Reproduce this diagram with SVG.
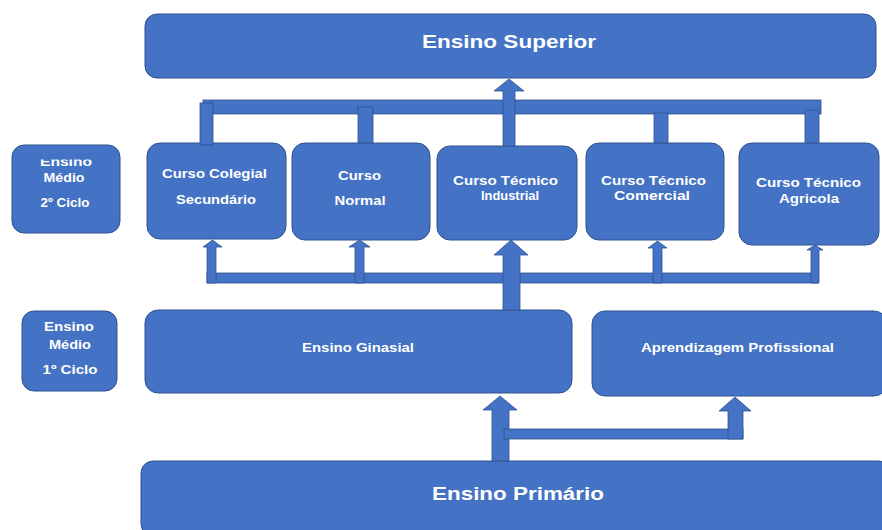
<svg xmlns="http://www.w3.org/2000/svg" width="882" height="530" viewBox="0 0 882 530">
<style>
.box{fill:#4472C4;stroke:#2F528F;stroke-width:1}
.con{fill:#4472C4;stroke:#2F528F;stroke-width:0.8}
.t{fill:#FFFFFF;font-family:"Liberation Sans",Arial,sans-serif;font-weight:bold;text-anchor:middle}
.s{font-size:12.5px}
.m{font-size:13px}
.l{font-size:18px}
</style>
<defs>
<clipPath id="clipTop"><rect x="0" y="159.5" width="140" height="40"/></clipPath>
</defs>
<rect width="882" height="530" fill="#FFFFFF"/>

<g id="superior">
<rect class="box" x="145" y="14" width="731" height="64" rx="12"/>
<text class="t l" x="509" y="48" textLength="174" lengthAdjust="spacingAndGlyphs">Ensino Superior</text>
</g>

<g id="medio2">
<rect class="box" x="12" y="145" width="108" height="88" rx="12"/>
<text class="t s" x="66" y="166" textLength="52" lengthAdjust="spacingAndGlyphs" clip-path="url(#clipTop)">Ensino</text>
<text class="t s" x="64" y="182" textLength="41" lengthAdjust="spacingAndGlyphs">Médio</text>
<text class="t s" x="65" y="207" textLength="49" lengthAdjust="spacingAndGlyphs">2º Ciclo</text>
</g>

<g id="colegial">
<rect class="box" x="147" y="143" width="139" height="96" rx="13"/>
<text class="t m" x="214.5" y="178" textLength="105" lengthAdjust="spacingAndGlyphs">Curso Colegial</text>
<text class="t m" x="216" y="204" textLength="80" lengthAdjust="spacingAndGlyphs">Secundário</text>
</g>

<g id="normal">
<rect class="box" x="292" y="143" width="138" height="97" rx="13"/>
<text class="t m" x="359.5" y="180" textLength="43" lengthAdjust="spacingAndGlyphs">Curso</text>
<text class="t m" x="360" y="205" textLength="51" lengthAdjust="spacingAndGlyphs">Normal</text>
</g>

<g id="industrial">
<rect class="box" x="437" y="146" width="140" height="94" rx="13"/>
<text class="t m" x="505.5" y="185" textLength="105" lengthAdjust="spacingAndGlyphs">Curso Técnico</text>
<text class="t m" x="510" y="200" textLength="58" lengthAdjust="spacingAndGlyphs">Industrial</text>
</g>

<g id="comercial">
<rect class="box" x="586" y="143" width="138" height="97" rx="13"/>
<text class="t m" x="653.5" y="185" textLength="105" lengthAdjust="spacingAndGlyphs">Curso Técnico</text>
<text class="t m" x="652" y="200" textLength="76" lengthAdjust="spacingAndGlyphs">Comercial</text>
</g>

<g id="agricola">
<rect class="box" x="739" y="143" width="140" height="102" rx="13"/>
<text class="t m" x="808.5" y="187" textLength="105" lengthAdjust="spacingAndGlyphs">Curso Técnico</text>
<text class="t m" x="809" y="203" textLength="60" lengthAdjust="spacingAndGlyphs">Agricola</text>
</g>

<g id="medio1">
<rect class="box" x="22" y="311" width="95" height="80" rx="12"/>
<text class="t s" x="69" y="331" textLength="50" lengthAdjust="spacingAndGlyphs">Ensino</text>
<text class="t s" x="70" y="349" textLength="42" lengthAdjust="spacingAndGlyphs">Médio</text>
<text class="t s" x="70" y="374" textLength="55" lengthAdjust="spacingAndGlyphs">1º Ciclo</text>
</g>

<g id="ginasial">
<rect class="box" x="145" y="310" width="427" height="83" rx="13"/>
<text class="t m" x="358" y="352" textLength="112" lengthAdjust="spacingAndGlyphs">Ensino Ginasial</text>
</g>

<g id="aprendizagem">
<rect class="box" x="592" y="311" width="295" height="85" rx="13"/>
<text class="t m" x="737.5" y="352" textLength="193" lengthAdjust="spacingAndGlyphs">Aprendizagem Profissional</text>
</g>

<g id="primario">
<rect class="box" x="141" y="461" width="750" height="75" rx="12"/>
<text class="t l" x="518" y="500" textLength="172" lengthAdjust="spacingAndGlyphs">Ensino Primário</text>
</g>

<g id="connectors">
<rect class="con" x="203" y="100" width="618" height="14"/>
<rect class="con" x="200" y="103" width="13" height="42"/>
<rect class="con" x="358" y="107" width="15" height="36"/>
<rect class="con" x="654" y="113" width="14" height="30"/>
<rect class="con" x="805" y="110" width="14" height="33"/>
<polygon class="con" points="503,146 503,91 494,91 509,79 524,91 515,91 515,146"/>

<rect class="con" x="207" y="273" width="611" height="10"/>
<polygon class="con" points="207,283 207,247 203,247 212.5,240 222,247 216,247 216,283"/>
<polygon class="con" points="355,283 355,247 349,247 359.5,240 370,247 364,247 364,283"/>
<polygon class="con" points="503,310 503,255 494,255 511,240 528,255 520,255 520,310"/>
<polygon class="con" points="653,283 653,248 648,248 657.5,241 667,248 662,248 662,283"/>
<polygon class="con" points="811,283 811,250 807,250 815,245 823,250 819,250 819,283"/>

<polygon class="con" points="492,461 492,410 483,410 500,396 517,410 509,410 509,461"/>
<rect class="con" x="504" y="429" width="239" height="10"/>
<polygon class="con" points="728,439 728,411 719,411 735,397 751,411 743,411 743,439"/>
</g>
</svg>
